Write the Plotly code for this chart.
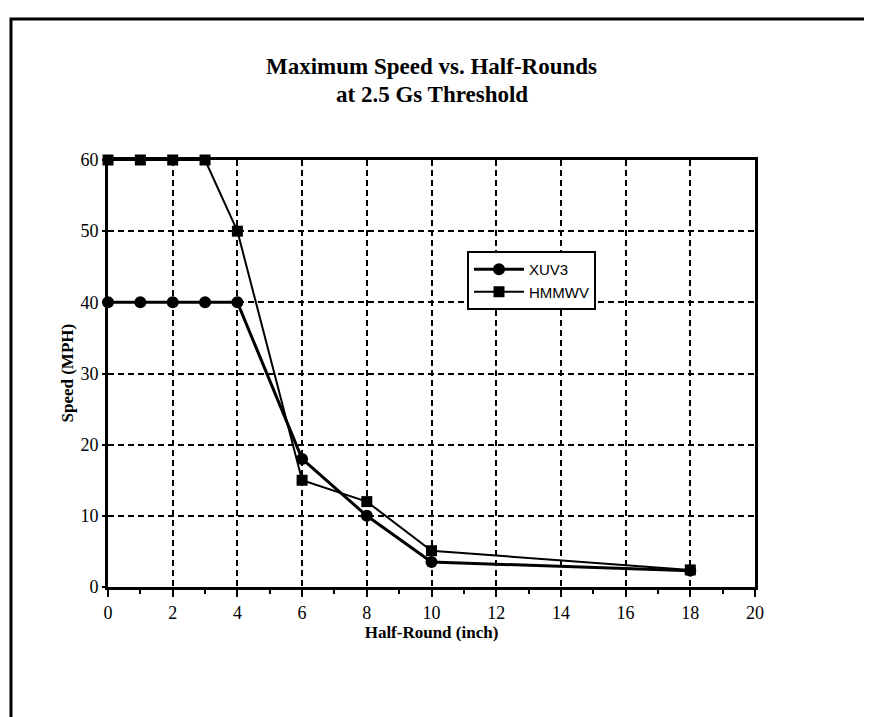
import plotly.graph_objects as go

# Data
half_round = [0, 1, 2, 3, 4, 6, 8, 10, 18]
xuv3_speed = [40, 40, 40, 40, 40, 18, 10, 3.5, 2.3]
hmmwv_speed = [60, 60, 60, 60, 50, 15, 12, 5.1, 2.4]
x_ticks = [0, 2, 4, 6, 8, 10, 12, 14, 16, 18, 20]
y_ticks = [0, 10, 20, 30, 40, 50, 60]
title_lines = ["Maximum Speed vs. Half-Rounds", "at 2.5 Gs Threshold"]

W, H = 872, 717
L, R, T, B = 100, 125, 152, 138
pw, ph = W - L - R, H - T - B

fig = go.Figure()
fig.add_trace(go.Scatter(
    x=half_round, y=xuv3_speed, name="XUV3", mode="lines+markers",
    line=dict(color="black", width=3),
    marker=dict(symbol="circle", size=12, color="black"),
    cliponaxis=False,
))
fig.add_trace(go.Scatter(
    x=half_round, y=hmmwv_speed, name="HMMWV", mode="lines+markers",
    line=dict(color="black", width=2),
    marker=dict(symbol="square", size=11, color="black"),
    cliponaxis=False,
))

serif = "Liberation Serif, Times New Roman, serif"
axis_common = dict(
    showline=True, linecolor="black", linewidth=3, mirror=True,
    showgrid=True, gridcolor="black", gridwidth=2, griddash="6px,4px",
    zeroline=False, ticks="outside", tickcolor="black", tickwidth=2,
    tickfont=dict(family=serif, size=18, color="black"),
)

fig.update_xaxes(
    range=[0, 20], tickvals=x_ticks, ticklen=7,
    minor=dict(dtick=1, ticks="outside", ticklen=4, tickwidth=2,
               tickcolor="black", showgrid=False),
    title=dict(text="<b>Half-Round (inch)</b>",
               font=dict(family=serif, size=17, color="black"), standoff=5),
    **axis_common,
)
fig.update_yaxes(
    range=[0, 60], tickvals=y_ticks, ticklen=3,
    **axis_common,
)

# y-axis title placed close to the tick labels
fig.add_annotation(text="<b>Speed (MPH)</b>", textangle=-90,
                   xref="paper", yref="paper", x=-41 / pw, y=0.5,
                   xanchor="center", yanchor="middle", showarrow=False,
                   font=dict(family=serif, size=17, color="black"))

# two-line title with tight line spacing
for i, line in enumerate(title_lines):
    fig.add_annotation(text=f"<b>{line}</b>", xref="paper", yref="paper",
                       x=0.5, y=1 + (93 - 27 * i) / ph,
                       xanchor="center", yanchor="middle", showarrow=False,
                       font=dict(family=serif, size=23, color="black"))

# outer frame (left and top edges visible, the rest runs off the page)
fig.add_shape(type="rect", xref="paper", yref="paper",
              x0=(3 - L) / pw, x1=(W + 10 - L) / pw,
              y0=-(H + 10 - T - ph) / ph, y1=1 + (T - 11) / ph,
              line=dict(color="black", width=3), layer="above")

fig.update_layout(
    width=W, height=H,
    margin=dict(l=L, r=R, t=T, b=B),
    paper_bgcolor="white", plot_bgcolor="white",
    legend=dict(x=(459 - L) / pw, y=(H - B - 243) / ph, xanchor="left", yanchor="top",
                bgcolor="white", bordercolor="black", borderwidth=2,
                font=dict(family="Liberation Sans, Arial, sans-serif", size=15, color="black"),
                itemwidth=50, tracegroupgap=0),
    showlegend=True,
)

fig.write_html("out.html")
